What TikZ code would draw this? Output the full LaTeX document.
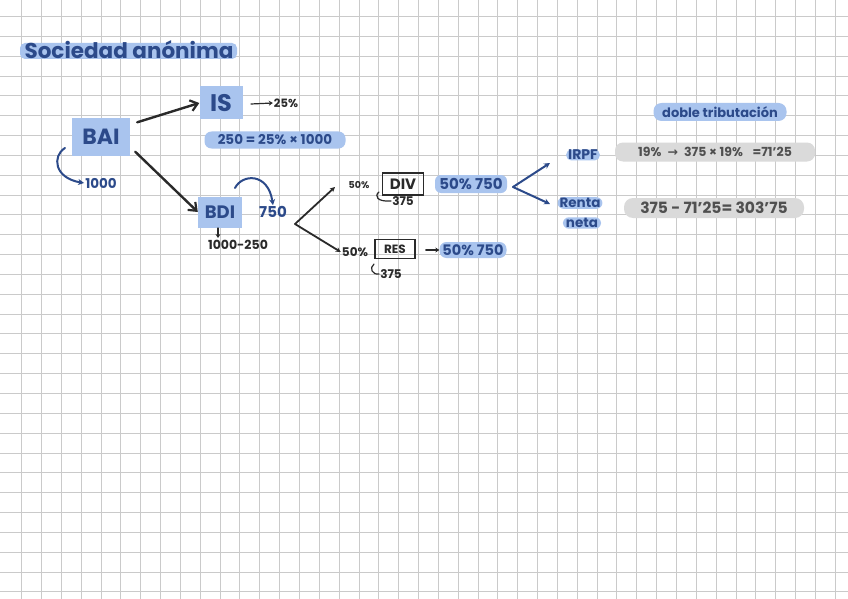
\documentclass[tikz,border=0pt]{standalone}
\usepackage{fontspec}
\setmainfont{Poppins}
\newfontfamily\symfont{DejaVu Sans}
\usetikzlibrary{arrows.meta}
\definecolor{ink}{HTML}{2C4A8A}
\definecolor{hl}{HTML}{A9C4EE}
\definecolor{pill}{HTML}{DADADA}
\definecolor{pen}{HTML}{2A2A2A}
\definecolor{graytext}{HTML}{505050}
\definecolor{gridc}{HTML}{CACACA}
\tikzset{
  bluetxt/.style={text=ink, font=\bfseries, inner sep=1pt},
  hlbox/.style={fill=hl, text=ink, font=\bfseries, inner sep=0pt},
  hlpill/.style={fill=hl, text=ink, font=\bfseries, rounded corners=7pt, inner xsep=4pt, inner ysep=2pt},
  graypill/.style={fill=pill, text=graytext, font=\bfseries, rounded corners=8pt, inner sep=0pt},
  blacktxt/.style={text=pen, font=\bfseries, inner sep=1pt},
  outbox/.style={draw=pen, line width=1.6pt, text=pen, font=\bfseries, inner sep=0pt},
  bigarrow/.style={draw=pen, line width=2.4pt, line cap=round, -{Straight Barb[length=7pt,width=11pt,line width=2.2pt]}},
  thinarrow/.style={draw=pen, line width=1.8pt, line cap=round, -{Stealth[length=5pt,width=5pt]}},
  bluearrow/.style={draw=ink, line width=2pt, line cap=round, -{Stealth[length=6pt,width=6pt]}},
  smallarrow/.style={draw=pen, line width=1.2pt, line cap=round, -{Stealth[length=4pt,width=5pt]}},
  hook/.style={draw=pen, line width=1.2pt, line cap=round},
}
\begin{document}
\begin{tikzpicture}[x=1pt,y=-1pt]
\useasboundingbox (0,0) rectangle (848,599);
\fill[white] (0,0) rectangle (848,599);
% grid
\foreach \i in {0,...,41} \draw[gridc, line width=0.9pt] ({21.7+19.84*\i},0) -- ({21.7+19.84*\i},599);
\foreach \j in {0,...,29} \draw[gridc, line width=0.9pt] (0,{16.5+19.84*\j}) -- (848,{16.5+19.84*\j});

% title
\fill[hl, rounded corners=5pt] (20,43) rectangle (237,59);
\node[bluetxt, font=\bfseries\fontsize{21.5}{22}\selectfont] (title) at (129,50) {Sociedad anónima};

% BAI
\node[hlbox, minimum width=58pt, minimum height=37pt, font=\bfseries\fontsize{22}{22}\selectfont] (bai) at (101,137) {BAI};
\coordinate (baiL) at (65,148);
\node[bluetxt, font=\bfseries\fontsize{13.5}{14}\selectfont] (mil) at (101,183) {1000};
\draw[bluearrow] (baiL) .. controls (52,156) and (54,178) .. (mil.west);

% IS
\node[hlbox, minimum width=43pt, minimum height=33pt, font=\bfseries\fontsize{24}{24}\selectfont] (is) at (221,103) {IS};
\draw[bigarrow] (bai.north east) ++(7,4) -- (is.west);
\node[blacktxt, font=\bfseries\fontsize{11.5}{12}\selectfont] (p25) at (286,103) {25\%};
\draw[smallarrow] (251,104) -- (p25.west);
\node[hlpill, font=\bfseries\fontsize{13.5}{14}\selectfont, minimum width=141pt, minimum height=17pt, inner xsep=1pt] (calc) at (275,140) {250 = 25\% × 1000};

% BDI
\node[hlbox, minimum width=44pt, minimum height=31pt, font=\bfseries\fontsize{18}{18}\selectfont] (bdi) at (220,212) {BDI};
\draw[bigarrow] (bai.south east) ++(5,-4) -- (bdi.west);
\node[bluetxt, font=\bfseries\fontsize{15}{15}\selectfont] (s750) at (273,212) {750};
\draw[bluearrow] (235,188) .. controls (242,174) and (268,172) .. (s750.north);
\node[blacktxt, font=\bfseries\fontsize{12.5}{13}\selectfont] (resta) at (238,245) {1000-250};
\draw[smallarrow] (218,228) -- (218,238);

% branch to DIV / RES
\coordinate (v1) at (295,224);
\coordinate (upEnd) at (335,187);
\node[blacktxt, font=\bfseries\fontsize{9.5}{10}\selectfont] (p50a) at (359,185) {50\%};
\node[outbox, minimum width=41pt, minimum height=22pt, font=\bfseries\fontsize{15}{15}\selectfont] (div) at (403,184) {DIV};
\node[blacktxt, font=\bfseries\fontsize{12}{12}\selectfont] (d375) at (403,201) {375};
\draw[hook] (379,192) .. controls (374,196) and (377,202) .. (d375.west);
\node[hlpill, font=\bfseries\fontsize{15}{15}\selectfont, minimum width=72pt, minimum height=18pt, rounded corners=6pt, inner xsep=1pt] (div750) at (471,184) {50\% 750};

\node[blacktxt, font=\bfseries\fontsize{12}{12}\selectfont] (p50b) at (355,252) {50\%};
\node[outbox, minimum width=40pt, minimum height=19pt, font=\bfseries\fontsize{12}{12}\selectfont] (res) at (395,249) {RES};
\node[hlpill, font=\bfseries\fontsize{14.5}{15}\selectfont, minimum width=67pt, minimum height=16pt, rounded corners=7pt, inner xsep=1pt] (res750) at (473,250) {50\% 750};
\draw[smallarrow] (res.east) ++(10,1) -- (res750.west);
\node[blacktxt, font=\bfseries\fontsize{12}{12}\selectfont] (r375) at (391,274) {375};
\draw[hook] (374,264) .. controls (369,268) and (372,275) .. (r375.west);

\draw[thinarrow] (v1) -- (upEnd);
\draw[thinarrow] (v1) -- (p50b.west);

% branch to IRPF / Renta neta
\coordinate (v2) at (513,187);
\node[hlpill, font=\bfseries\fontsize{14}{14}\selectfont, inner xsep=2pt, inner ysep=0.5pt, rounded corners=5pt] (irpf) at (583,155) {IRPF};
\node[hlpill, font=\bfseries\fontsize{13.5}{14}\selectfont, inner xsep=2pt, inner ysep=1pt, rounded corners=6pt] (renta) at (580,203) {Renta};
\node[hlpill, font=\bfseries\fontsize{13.5}{14}\selectfont, inner xsep=3pt, inner ysep=1pt, rounded corners=6pt] (neta) at (582,223) {neta};
\draw[bluearrow] (v2) -- (550,163);
\draw[bluearrow] (v2) -- (550,204);

\node[graypill, minimum width=200pt, minimum height=19pt, font=\bfseries\fontsize{12.5}{13}\selectfont] (irpfcalc) at (715,152) {19\% \;{\symfont\bfseries →}\; 375 × 19\% \;\;=71'25};
\node[graypill, minimum width=180pt, minimum height=20pt, font=\bfseries\fontsize{15.5}{16}\selectfont, rounded corners=9pt] (netacalc) at (714,208) {375 - 71'25= 303'75};

\node[hlpill, font=\bfseries\fontsize{13}{13}\selectfont, minimum width=133pt, minimum height=18pt, rounded corners=8pt, inner xsep=1pt] (doble) at (720,112) {doble tributación};
\end{tikzpicture}
\end{document}
